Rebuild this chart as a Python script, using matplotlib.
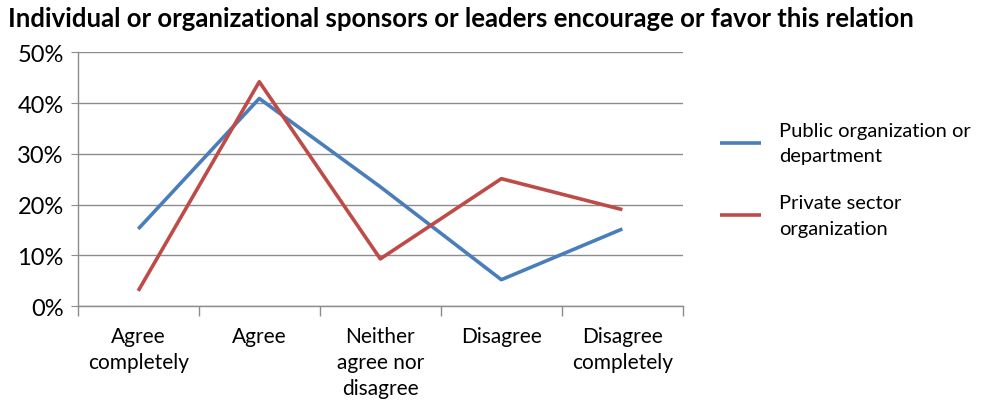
import matplotlib
matplotlib.use("Agg")
import matplotlib.pyplot as plt
import numpy as np
from matplotlib.ticker import FixedLocator, FuncFormatter

plt.rcParams['font.family'] = ['Lato', 'DejaVu Sans']

title = "Individual or organizational sponsors or leaders encourage or favor this relation"
categories = ["Agree\ncompletely", "Agree", "Neither\nagree nor\ndisagree", "Disagree", "Disagree\ncompletely"]
public_org = [15.2, 40.9, 23.5, 5.2, 15.2]
private_org = [3.0, 44.2, 9.3, 25.1, 19.0]
series_names = ["Public organization or\ndepartment", "Private sector\norganization"]
y_ticks = [0, 10, 20, 30, 40, 50]

fig = plt.figure(figsize=(9.84, 4.10), dpi=100)
ax = fig.add_axes([0.079, 0.251, 0.615, 0.619])

x = np.arange(len(categories))
ax.plot(x, public_org, color="#4A7EBB", lw=2.6, label=series_names[0], solid_capstyle="butt")
ax.plot(x, private_org, color="#BE4B48", lw=2.6, label=series_names[1], solid_capstyle="butt")

ax.set_xlim(-0.5, len(categories) - 0.5)
ax.set_ylim(0, 50)
ax.yaxis.set_major_locator(FixedLocator(y_ticks))
ax.yaxis.set_major_formatter(FuncFormatter(lambda v, p: f"{v:.0f}%"))
ax.grid(axis="y", color="#8C8C8C", lw=1)
ax.set_axisbelow(True)

ax.set_xticks(x)
ax.set_xticklabels(categories, fontsize=15, linespacing=1.4)
ax.set_xticks(np.arange(-0.5, len(categories)), minor=True)
ax.tick_params(axis="x", which="major", length=0, pad=14)
ax.tick_params(axis="x", which="minor", length=7, color="#8C8C8C", width=1)
ax.tick_params(axis="y", length=5, color="#8C8C8C", labelsize=17, pad=5)

for s in ["top", "right"]:
    ax.spines[s].set_visible(False)
for s in ["left", "bottom"]:
    ax.spines[s].set_color("#8C8C8C")
    ax.spines[s].set_linewidth(1)

fig.text(0.008, 0.953, title, fontsize=18.5, fontweight="bold", va="center", ha="left")

leg = ax.legend(loc="center left", bbox_to_anchor=(1.032, 0.50), frameon=False,
                fontsize=14.5, handlelength=2.0, handletextpad=0.9, labelspacing=1.5)
for t in leg.get_texts():
    t.set_linespacing(1.6)

fig.savefig("out.png", dpi=100)
